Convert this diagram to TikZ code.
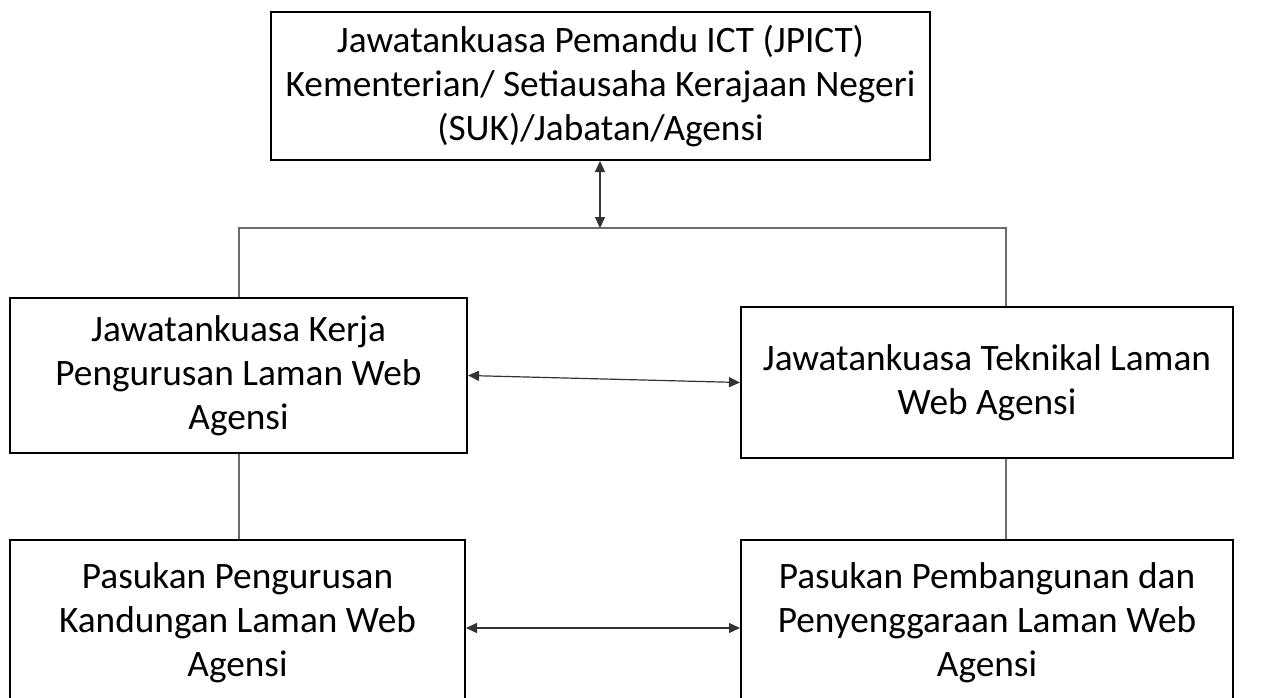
\documentclass[tikz,border=0pt]{standalone}
\usepackage{fontspec}
\setmainfont{Carlito}
\usetikzlibrary{arrows.meta}
\begin{document}
\begin{tikzpicture}[x=1pt,y=-1pt,
  boxnode/.style={draw=black,line width=2pt,rectangle,inner sep=0pt,align=center,
    font=\fontsize{37.3}{44}\selectfont},
  link/.style={draw=gray!85!black,line width=1.2pt},
  dual/.style={draw=black!80,line width=1.2pt,{Triangle[length=11pt,width=10pt]}-{Triangle[length=11pt,width=10pt]}}]
\useasboundingbox (0,0) rectangle (1271,698);
\fill[white] (0,0) rectangle (1271,698);
\node[boxnode,minimum width=659pt,minimum height=148pt] (top) at (600.5,86)
  {Jawatankuasa Pemandu ICT (JPICT)\\Kementerian/ Setiausaha Kerajaan Negeri\\(SUK)/Jabatan/Agensi};
\node[boxnode,minimum width=457pt,minimum height=155pt] (jk) at (238.5,375.5)
  {Jawatankuasa Kerja\\Pengurusan Laman Web\\Agensi};
\node[boxnode,minimum width=492pt,minimum height=151pt] (jt) at (987,382.5)
  {Jawatankuasa Teknikal Laman\\Web Agensi};
\node[boxnode,minimum width=455pt,minimum height=166pt] (pk) at (237.5,623)
  {Pasukan Pengurusan\\Kandungan Laman Web\\Agensi};
\node[boxnode,minimum width=492pt,minimum height=166pt] (pp) at (987,623)
  {Pasukan Pembangunan dan\\Penyenggaraan Laman Web\\Agensi};
\coordinate (bus) at (600,228);
\coordinate (bl) at (239,228);
\coordinate (br) at (1006,228);
\draw[link] (jk.north -| bl) -- (bl) -- (br) -- (br |- jt.north);
\draw[link] (jk.south -| bl) -- (pk.north -| bl);
\draw[link] (jt.south -| br) -- (pp.north -| br);
\draw[dual] (top.south -| bus) -- (bus);
\draw[dual] (jk.east) -- (jt.west);
\draw[dual] ([yshift=-5pt]pk.east) -- ([yshift=-5pt]pp.west);
\end{tikzpicture}
\end{document}
